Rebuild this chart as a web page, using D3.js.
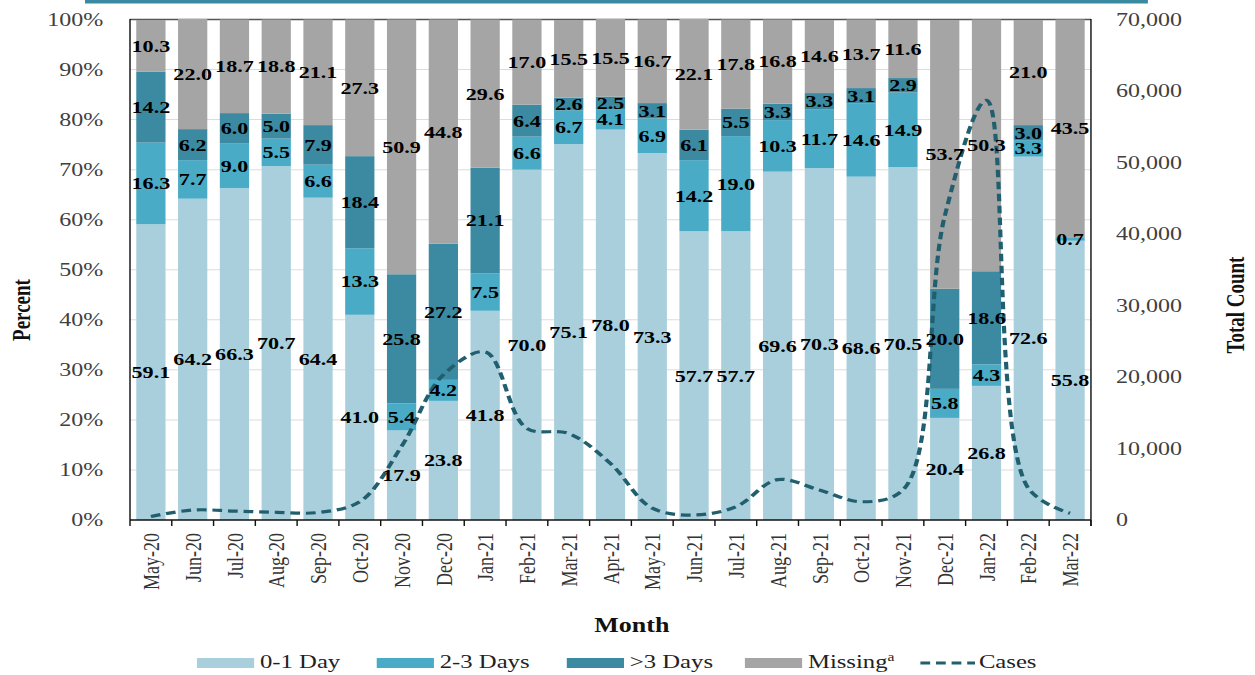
<!DOCTYPE html>
<html>
<head>
<meta charset="utf-8">
<script src="https://cdn.jsdelivr.net/npm/d3@7"></script>
<style>
  html, body { margin: 0; padding: 0; background: #fff; }
  svg { display: block; }
</style>
</head>
<body>
<svg id="chart"></svg>
<script>
// ---------------- DATA ----------------
const months = ["May-20","Jun-20","Jul-20","Aug-20","Sep-20","Oct-20","Nov-20","Dec-20",
  "Jan-21","Feb-21","Mar-21","Apr-21","May-21","Jun-21","Jul-21","Aug-21","Sep-21",
  "Oct-21","Nov-21","Dec-21","Jan-22","Feb-22","Mar-22"];
const day01   = [59.1,64.2,66.3,70.7,64.4,41.0,17.9,23.8,41.8,70.0,75.1,78.0,73.3,57.7,57.7,69.6,70.3,68.6,70.5,20.4,26.8,72.6,55.8];
const day23   = [16.3,7.7,9.0,5.5,6.6,13.3,5.4,4.2,7.5,6.6,6.7,4.1,6.9,14.2,19.0,10.3,11.7,14.6,14.9,5.8,4.3,3.3,0.7];
const day3p   = [14.2,6.2,6.0,5.0,7.9,18.4,25.8,27.2,21.1,6.4,2.6,2.5,3.1,6.1,5.5,3.3,3.3,3.1,2.9,20.0,18.6,3.0,null];
const missing = [10.3,22.0,18.7,18.8,21.1,27.3,50.9,44.8,29.6,17.0,15.5,15.5,16.7,22.1,17.8,16.8,14.6,13.7,11.6,53.7,50.3,21.0,43.5];
const cases   = [500,1400,1250,1080,1050,2560,10300,20300,23500,12800,12100,7900,1650,700,1850,5650,4200,2550,4200,42500,58700,4450,950];
const seriesNames = ["0-1 Day","2-3 Days",">3 Days","Missing"];
const pctTicks = [0,10,20,30,40,50,60,70,80,90,100];
const countTicks = [0,10000,20000,30000,40000,50000,60000,70000];

// ---------------- LAYOUT ----------------
const W = 1255, H = 675, SX = 1.3;           // whole chart is stretched horizontally
const VW = W / SX;
const colors = ["#a9cfdc", "#4aabc6", "#3c8aa1", "#a5a5a5"];
const lineColor = "#215f6e";
const pLeft = 100, pRight = 839.2, pTop = 19.5, pBottom = 520;

const svg = d3.select("#chart")
  .attr("width", W).attr("height", H)
  .attr("viewBox", `0 0 ${VW} ${H}`)
  .attr("preserveAspectRatio", "none");

const serif = "'Liberation Serif', 'Times New Roman', serif";

const x = d3.scaleBand().domain(months).range([pLeft, pRight]).paddingInner(0.3).paddingOuter(0.15);
const y = d3.scaleLinear().domain([0, 100]).range([pBottom, pTop]);
const y2 = d3.scaleLinear().domain([0, 70000]).range([pBottom, pTop]);

// decorative top band
svg.append("rect").attr("x", 65.4).attr("y", 0).attr("width", 883 - 65.4).attr("height", 3.5).attr("fill", "#3a89a0");

// gridlines
svg.append("g").selectAll("line").data(pctTicks.filter(t => t > 0)).join("line")
  .attr("x1", pLeft).attr("x2", pRight)
  .attr("y1", d => y(d)).attr("y2", d => y(d))
  .attr("stroke", d => d === 100 ? "#555" : "#dcdcdc")
  .attr("stroke-width", d => d === 100 ? 1.4 : 1);

// stacked data
const rows = months.map((m, i) => ({ month: m, s0: day01[i], s1: day23[i], s2: day3p[i] || 0, s3: missing[i], raw: [day01[i], day23[i], day3p[i], missing[i]] }));
const stack = d3.stack().keys(["s0", "s1", "s2", "s3"]);
const stacked = stack(rows);

const gBars = svg.append("g");
stacked.forEach((layer, k) => {
  gBars.append("g").attr("fill", colors[k]).selectAll("rect").data(layer).join("rect")
    .attr("x", d => x(d.data.month))
    .attr("width", x.bandwidth())
    .attr("y", d => y(d[1]))
    .attr("height", d => Math.max(0, y(d[0]) - y(d[1])));
});

// axes lines
svg.append("line").attr("x1", pLeft).attr("x2", pLeft).attr("y1", pTop - 0.5).attr("y2", pBottom)
  .attr("stroke", "#111").attr("stroke-width", 1.1);
svg.append("line").attr("x1", pRight).attr("x2", pRight).attr("y1", pTop - 0.5).attr("y2", pBottom + 6)
  .attr("stroke", "#111").attr("stroke-width", 1.1);
svg.append("line").attr("x1", pLeft).attr("x2", pRight).attr("y1", pBottom).attr("y2", pBottom)
  .attr("stroke", "#111").attr("stroke-width", 1.6);
// bottom ticks at band edges
const edges = [pLeft].concat(months.map(m => x(m) + x.bandwidth() / 2 + x.step() / 2));
svg.append("g").selectAll("line").data(edges).join("line")
  .attr("x1", d => d).attr("x2", d => d).attr("y1", pBottom).attr("y2", pBottom + 6)
  .attr("stroke", "#111").attr("stroke-width", 1.1);

// cases line
const line = d3.line()
  .x((d, i) => x(months[i]) + x.bandwidth() / 2)
  .y(d => y2(d))
  .curve(d3.curveCatmullRom.alpha(0.5));
svg.append("path").datum(cases).attr("d", line)
  .attr("fill", "none").attr("stroke", lineColor).attr("stroke-width", 3.2)
  .attr("stroke-dasharray", "7.5,4.5");

// bar labels
const gLab = svg.append("g").attr("font-family", serif).attr("font-weight", "bold")
  .attr("font-size", 17).attr("fill", "#000").attr("text-anchor", "middle");
stacked.forEach((layer, k) => {
  gLab.append("g").selectAll("text").data(layer.filter(d => d.data.raw[k] != null)).join("text")
    .attr("x", d => x(d.data.month) + x.bandwidth() / 2)
    .attr("y", d => y((d[0] + d[1]) / 2))
    .attr("dy", "0.35em")
    .text(d => d.data.raw[k].toFixed(1));
});

// left ticks
svg.append("g").selectAll("text").data(pctTicks).join("text")
  .attr("x", 79.5).attr("y", d => y(d)).attr("dy", "0.35em")
  .attr("text-anchor", "end").attr("font-family", serif).attr("font-size", 18.5).attr("fill", "#404040")
  .text(d => d + "%");
// right ticks
svg.append("g").selectAll("text").data(countTicks).join("text")
  .attr("x", 858.5).attr("y", d => y2(d)).attr("dy", "0.35em")
  .attr("text-anchor", "start").attr("font-family", serif).attr("font-size", 18.5).attr("fill", "#404040")
  .text(d => d3.format(",")(d));

// month labels
svg.append("g").selectAll("text").data(months).join("text")
  .attr("transform", d => `translate(${x(d) + x.bandwidth() / 2},533) rotate(-90)`)
  .attr("dy", "0.35em").attr("text-anchor", "end")
  .attr("font-family", serif).attr("font-size", 18).attr("fill", "#333")
  .text(d => d);

// axis titles
svg.append("text").attr("transform", `translate(16.5,310) rotate(-90)`)
  .attr("text-anchor", "middle").attr("dy", "0.35em")
  .attr("font-family", serif).attr("font-weight", "bold").attr("font-size", 19).attr("fill", "#111")
  .text("Percent");
svg.append("text").attr("transform", `translate(950.5,305) rotate(-90)`)
  .attr("text-anchor", "middle").attr("dy", "0.35em")
  .attr("font-family", serif).attr("font-weight", "bold").attr("font-size", 19).attr("fill", "#111")
  .text("Total Count");
svg.append("text").attr("x", 486).attr("y", 632)
  .attr("text-anchor", "middle")
  .attr("font-family", serif).attr("font-weight", "bold").attr("font-size", 20).attr("fill", "#111")
  .text("Month");

// legend
const legX = [151.5, 289.8, 436, 573];
const gLeg = svg.append("g").attr("font-family", serif).attr("font-size", 19).attr("fill", "#222");
seriesNames.forEach((name, k) => {
  gLeg.append("rect").attr("x", legX[k]).attr("y", 658).attr("width", 44).attr("height", 10).attr("fill", colors[k]);
  const t = gLeg.append("text").attr("x", legX[k] + 48.5).attr("y", 668.5).text(name);
  if (name === "Missing") {
    t.append("tspan").attr("font-size", 12).attr("dy", -7).text("a");
  }
});
gLeg.append("line").attr("x1", 708).attr("x2", 750).attr("y1", 663).attr("y2", 663)
  .attr("stroke", lineColor).attr("stroke-width", 3.2).attr("stroke-dasharray", "7.5,4.5");
gLeg.append("text").attr("x", 753).attr("y", 668.5).text("Cases");
</script>
</body>
</html>
